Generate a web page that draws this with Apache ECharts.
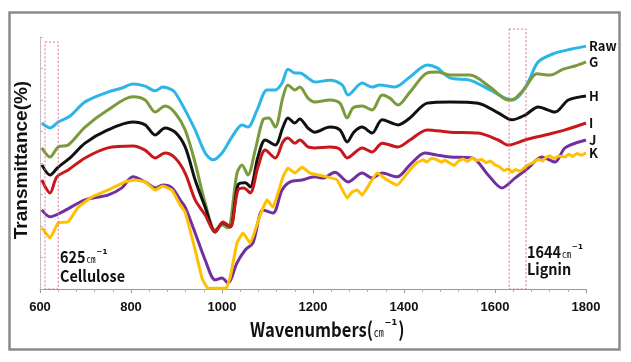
<!DOCTYPE html>
<html><head><meta charset="utf-8">
<script src="https://cdn.jsdelivr.net/npm/echarts@6/dist/echarts.min.js"></script>
<style>html,body{margin:0;padding:0;background:#fff}#c{width:631px;height:362px}</style>
</head><body><div id="c"></div>
<script>
// x-axis tick labels
const xTicks = [600, 800, 1000, 1200, 1400, 1600, 1800];
const seriesNames = ['Raw', 'G', 'H', 'I', 'J', 'K'];
const seriesColors = ['#2cb5e6', '#7b9a3c', '#111111', '#c8181c', '#7030a0', '#ffc000'];
// annotated bands [from, to] (cm-1)
const celluloseBand = [611, 640];
const ligninBand = [1631, 1668];

// [wavenumber, transmittance]
const raw = [[604,52.7],[613,51.7],[622,51.1],[640,53.0],[666,54.9],[699,59.4],[749,62.5],[780,63.8],[804,65.1],[831,64.4],[853,62.9],[870,64.1],[890,63.2],[899,61.9],[919,56.8],[941,50.5],[963,43.2],[980,41.0],[1000,43.2],[1022,48.3],[1044,52.1],[1057,51.4],[1077,56.8],[1099,63.2],[1117,63.2],[1132,65.4],[1145,69.8],[1160,68.6],[1171,68.6],[1189,67.0],[1204,65.7],[1237,66.3],[1264,64.8],[1277,61.6],[1308,65.4],[1330,64.1],[1347,64.8],[1380,64.1],[1413,67.3],[1451,71.1],[1473,70.2],[1501,67.0],[1545,66.3],[1589,63.2],[1622,60.6],[1637,60.0],[1655,61.6],[1673,65.7],[1695,72.1],[1732,74.9],[1769,76.2],[1800,77.1]];
const seriesG = [[604,44.8],[622,41.9],[640,45.1],[662,45.7],[699,51.4],[749,56.8],[804,61.0],[831,60.0],[853,56.2],[875,58.1],[897,55.9],[919,50.5],[941,40.0],[963,27.3],[985,18.7],[1000,20.3],[1013,19.4],[1033,36.8],[1044,39.4],[1057,36.2],[1073,44.1],[1090,53.7],[1103,54.3],[1117,51.4],[1134,61.0],[1145,64.8],[1160,63.2],[1171,64.1],[1189,60.6],[1204,59.4],[1237,60.0],[1259,59.0],[1275,54.3],[1288,57.5],[1308,58.1],[1330,56.8],[1352,61.6],[1369,60.6],[1387,58.4],[1413,62.5],[1451,68.6],[1473,68.9],[1501,67.9],[1545,67.9],[1589,64.1],[1629,60.0],[1642,60.3],[1666,63.8],[1692,68.3],[1721,67.9],[1750,69.8],[1776,70.8],[1800,72.1]];
const seriesH = [[604,39.4],[622,36.2],[640,38.7],[666,41.6],[699,46.3],[749,50.5],[804,53.0],[831,52.1],[853,48.9],[875,51.1],[897,49.8],[919,45.1],[941,34.6],[963,26.0],[985,18.1],[1002,21.0],[1018,19.7],[1035,33.0],[1051,33.7],[1062,32.4],[1079,41.9],[1095,47.3],[1117,45.7],[1134,51.4],[1145,54.3],[1160,52.7],[1171,54.0],[1189,51.1],[1204,49.8],[1237,51.4],[1259,50.5],[1275,46.7],[1290,49.8],[1308,51.4],[1330,49.5],[1352,53.7],[1387,52.1],[1413,54.3],[1451,59.0],[1501,59.4],[1563,59.0],[1607,55.9],[1637,53.7],[1666,55.2],[1695,57.8],[1732,56.2],[1761,60.0],[1800,61.3]];
const seriesI = [[604,34.6],[622,30.5],[637,35.6],[662,37.8],[699,41.6],[749,44.8],[804,45.4],[831,44.1],[853,41.6],[875,43.2],[897,41.6],[919,36.8],[941,28.3],[963,23.5],[985,18.1],[1002,21.3],[1018,19.7],[1035,31.4],[1048,32.1],[1062,30.5],[1079,38.7],[1095,44.1],[1117,41.6],[1134,46.7],[1145,47.9],[1160,46.3],[1171,47.3],[1189,45.1],[1204,44.8],[1237,45.1],[1259,44.4],[1275,41.6],[1308,44.8],[1330,43.5],[1352,46.3],[1387,45.1],[1413,47.3],[1451,50.5],[1501,49.8],[1563,49.5],[1607,47.3],[1629,45.7],[1666,47.3],[1710,48.9],[1754,50.5],[1800,52.7]];
const seriesJ = [[604,25.1],[622,22.9],[648,24.4],[699,28.3],[749,29.8],[780,32.1],[804,35.6],[831,34.0],[853,32.1],[870,33.0],[890,32.1],[908,28.3],[919,26.0],[941,17.8],[963,9.2],[985,2.9],[1000,3.5],[1013,1.9],[1033,8.3],[1051,12.4],[1068,14.6],[1090,25.1],[1112,24.1],[1132,31.4],[1150,34.0],[1176,34.6],[1204,35.6],[1222,35.2],[1248,37.1],[1277,34.0],[1308,36.8],[1330,35.2],[1352,36.8],[1385,35.6],[1413,39.4],[1446,43.2],[1473,42.5],[1501,41.9],[1550,41.6],[1585,36.2],[1615,32.1],[1644,35.2],[1673,38.4],[1703,41.9],[1732,40.3],[1754,44.8],[1800,47.3]];
const seriesK = [[604,19.4],[622,16.2],[640,21.0],[662,21.3],[684,26.0],[714,29.2],[749,31.4],[787,34.0],[809,34.6],[831,34.0],[853,31.4],[870,32.7],[890,31.4],[908,26.7],[919,24.4],[941,12.4],[956,3.5],[969,0.2],[990,0.2],[1009,0.2],[1018,3.8],[1033,14.6],[1046,17.8],[1062,14.6],[1084,23.5],[1099,28.3],[1112,26.0],[1134,35.6],[1145,38.4],[1160,36.8],[1176,38.7],[1193,36.8],[1231,35.6],[1253,34.6],[1275,28.9],[1286,30.8],[1297,31.4],[1308,29.8],[1319,32.1],[1341,36.8],[1363,34.6],[1385,33.0],[1413,37.8],[1420,38.9],[1430,40.2],[1442,41.0],[1450,40.3],[1460,41.4],[1473,41.0],[1482,40.2],[1490,40.9],[1501,40.0],[1510,39.2],[1520,40.6],[1530,41.3],[1540,40.5],[1550,41.6],[1560,40.8],[1570,41.2],[1580,40.1],[1590,40.6],[1600,39.4],[1610,38.8],[1620,37.6],[1630,38.2],[1637,37.1],[1645,37.9],[1655,37.4],[1666,38.7],[1675,39.6],[1685,40.2],[1695,41.2],[1705,40.6],[1710,41.6],[1720,42.3],[1730,41.4],[1740,42.2],[1754,41.9],[1762,42.8],[1770,42.1],[1780,43.0],[1790,42.5],[1800,43.2]];
const allData = [raw, seriesG, seriesH, seriesI, seriesJ, seriesK];

const CJK = '"Noto Sans CJK JP", sans-serif';
const WIDE = '"Liberation Sans", Arial, sans-serif';

const chart = echarts.init(document.getElementById('c'), null, {renderer: 'canvas'});
chart.setOption({
  backgroundColor: '#fff',
  animation: false,
  grid: {left: 40, right: 45, top: 37, bottom: 73},
  xAxis: {
    type: 'value', min: xTicks[0], max: xTicks[xTicks.length - 1], interval: 200,
    axisLine: {lineStyle: {color: '#9a9a9a', width: 1}},
    axisTick: {show: true, length: 4, lineStyle: {color: '#9a9a9a'}},
    minorTick: {show: true, splitNumber: 5, length: 3, lineStyle: {color: '#b0b0b0'}},
    splitLine: {show: false},
    axisLabel: {color: '#111', fontWeight: 'bold', fontSize: 13, fontFamily: WIDE, margin: 12,
                formatter: v => String(v)}
  },
  yAxis: {
    type: 'value', min: 0, max: 80, interval: 10,
    axisLine: {show: true, lineStyle: {color: '#c9bcc0', width: 1}},
    axisTick: {show: true, inside: true, length: 3, lineStyle: {color: '#c0b4b8'}},
    axisLabel: {show: false},
    splitLine: {show: false}
  },
  series: seriesNames.map((n, i) => ({
    name: n, type: 'line', data: allData[i],
    showSymbol: false, smooth: i === 5 ? 0.1 : 0.3,
    lineStyle: {color: seriesColors[i], width: 3},
    itemStyle: {color: seriesColors[i]},
    endLabel: {show: true, formatter: '{a}', color: '#111', fontWeight: 'bold', fontSize: 13, fontFamily: CJK, distance: 3},
    z: 2 + i
  }))
});

function band(b, topPx) {
  const p0 = chart.convertToPixel({gridIndex: 0}, [b[0], 0]);
  const p1 = chart.convertToPixel({gridIndex: 0}, [b[1], 0]);
  return {
    type: 'rect', z: 50, silent: true,
    shape: {x: p0[0], y: topPx, width: p1[0] - p0[0], height: p0[1] - topPx},
    style: {fill: 'none', stroke: '#e0708c', lineWidth: 1, lineDash: [2, 2]}
  };
}
const richStyles = (big, small, sup) => ({
  a: {fontSize: big, fontWeight: 'bold', fontFamily: CJK, fill: '#111'},
  b: {fontSize: small, fontFamily: CJK, fill: '#111', padding: [Math.round(big * 0.3), 0, 0, 1]},
  c: {fontSize: sup, fontWeight: 'bold', fontFamily: '"DejaVu Sans", sans-serif', fill: '#111', padding: [0, 1, Math.round(big * 0.3), 1]}
});
const annot = (x, y, t, big, sx) => ({
  type: 'text', x: x, y: y, z: 60, scaleX: sx || 1, silent: true,
  style: {text: t, verticalAlign: 'middle', align: 'left', rich: richStyles(big, Math.round(big * 0.6), Math.round(big * 0.8))}
});

chart.setOption({
  graphic: [
    {type: 'rect', z: 0, silent: true, shape: {x: 9.5, y: 12.5, width: 610, height: 337},
     style: {fill: 'none', stroke: '#8a8a8a', lineWidth: 2.5}},
    band(celluloseBand, 42),
    band(ligninBand, 29),
    annot(60, 257, '{a|625}{b|㎝}{c|⁻¹}', 16, 0.9),
    annot(60, 276, '{a|Cellulose}', 16, 0.9),
    annot(527, 252, '{a|1644}{b|㎝}{c|⁻¹}', 16, 0.9),
    annot(527, 269, '{a|Lignin}', 16, 0.9),
    annot(250, 329, '{a|Wavenumbers(}{b|㎝}{c|⁻¹}{a|)}', 20, 0.83),
    {type: 'text', x: 22, y: 160, rotation: Math.PI / 2, z: 60, silent: true,
     style: {text: 'Transmittance(%)', align: 'center', verticalAlign: 'middle',
             font: 'bold 19px "Liberation Sans", Arial, sans-serif', fill: '#111'}}
  ]
});
</script></body></html>
